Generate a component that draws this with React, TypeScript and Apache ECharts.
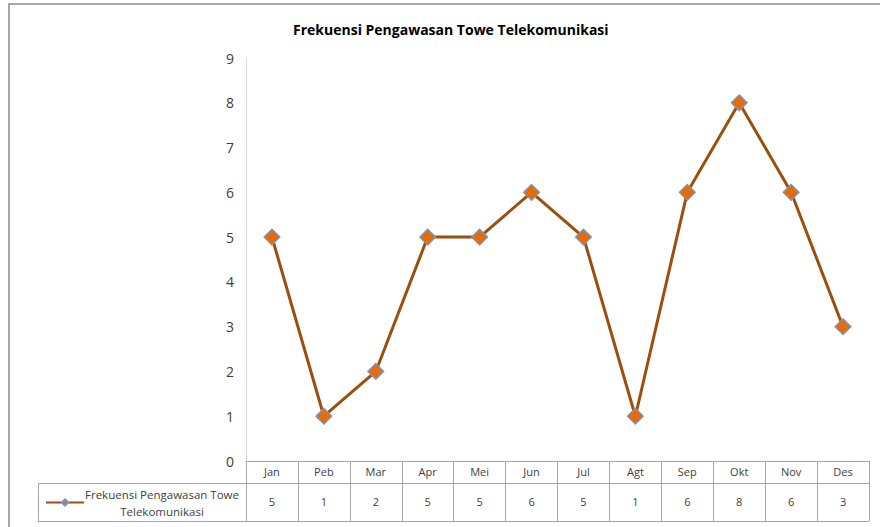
import React, { useEffect, useRef } from "react";
import * as echarts from "echarts";

const months = ["Jan", "Peb", "Mar", "Apr", "Mei", "Jun", "Jul", "Agt", "Sep", "Okt", "Nov", "Des"];
const values = [5, 1, 2, 5, 5, 6, 5, 1, 6, 8, 6, 3];
const yTicks = [0, 9, 1]; // min, max, interval
const seriesName = "Frekuensi Pengawasan Towe Telekomunikasi";
const titleText = "Frekuensi Pengawasan Towe Telekomunikasi";

const FONT = "'Open Sans', 'Noto Sans', sans-serif";
const TABLE = "#a6a6a6";
const TXT = "#404040";

export default function App() {
  const ref = useRef<HTMLDivElement>(null);
  useEffect(() => {
    if (!ref.current) return;
    const chart = echarts.init(ref.current, null, { renderer: "svg" });
    const gridLeft = 246;
    const gridTop = 58;
    const gridBottomY = 461;
    const option: any = {
      animation: false,
      backgroundColor: "#ffffff",
      textStyle: { fontFamily: FONT },
      title: {
        text: titleText,
        left: 288,
        top: 17,
        textStyle: { fontFamily: FONT, fontSize: 14, fontWeight: "bold", color: "#000" },
      },
      legend: {
        data: [seriesName],
        left: 40,
        top: 483,
        itemWidth: 38,
        itemHeight: 8,
        itemGap: 0,
        formatter: () => "{a|Frekuensi Pengawasan Towe}\n{a|Telekomunikasi}",
        textStyle: {
          fontFamily: FONT,
          color: TXT,
          padding: [0, 0, 0, -10],
          rich: { a: { fontSize: 11.5, width: 166, align: "center", lineHeight: 17, color: TXT, fontFamily: FONT } },
        },
      },
      grid: { left: gridLeft, right: 11, top: gridTop, height: gridBottomY - gridTop, containLabel: false },
      xAxis: [
        {
          type: "category",
          data: months,
          position: "bottom",
          boundaryGap: true,
          axisLine: { show: true, lineStyle: { color: TABLE, width: 1 } },
          axisTick: { show: true, length: 22, interval: 0, lineStyle: { color: TABLE } },
          axisLabel: { interval: 0, margin: 5, fontSize: 11, color: TXT, fontFamily: FONT },
          splitLine: { show: false },
        },
        {
          type: "category",
          data: values.map((v) => String(v)),
          position: "bottom",
          offset: 22,
          boundaryGap: true,
          axisLine: { show: true, lineStyle: { color: TABLE, width: 1 } },
          axisTick: { show: true, length: 38, interval: 0, lineStyle: { color: TABLE } },
          axisLabel: { interval: 0, margin: 13, fontSize: 11, color: TXT, fontFamily: FONT },
        },
        {
          type: "category",
          data: months,
          position: "bottom",
          offset: 60,
          boundaryGap: true,
          axisLine: { show: true, lineStyle: { color: TABLE, width: 1 } },
          axisTick: { show: false },
          axisLabel: { show: false },
        },
      ],
      yAxis: {
        type: "value",
        min: yTicks[0],
        max: yTicks[1],
        interval: yTicks[2],
        axisLine: { show: true, lineStyle: { color: "#d9d9d9", width: 1 } },
        axisTick: { show: false },
        splitLine: { show: false },
        axisLabel: { fontSize: 14, color: TXT, margin: 12, fontFamily: FONT },
      },
      series: [
        {
          name: seriesName,
          type: "line",
          xAxisIndex: 0,
          data: values,
          symbol: "diamond",
          symbolSize: 16,
          lineStyle: { color: "#9c4f0c", width: 3 },
          itemStyle: { color: "#e46c0a", borderColor: "#6f99d0", borderWidth: 1.2 },
        },
      ],
      graphic: [
        { type: "line", shape: { x1: 9, y1: 4, x2: 9, y2: 527 }, style: { stroke: "#a6a6a6", lineWidth: 2 } },
        { type: "line", shape: { x1: 8, y1: 4, x2: 880, y2: 4 }, style: { stroke: "#a6a6a6", lineWidth: 2 } },
        { type: "line", shape: { x1: 38, y1: 483.5, x2: 246, y2: 483.5 }, style: { stroke: TABLE, lineWidth: 1 } },
        { type: "line", shape: { x1: 38, y1: 521.5, x2: 246, y2: 521.5 }, style: { stroke: TABLE, lineWidth: 1 } },
        { type: "line", shape: { x1: 38.5, y1: 483, x2: 38.5, y2: 522 }, style: { stroke: TABLE, lineWidth: 1 } },
      ],
    };
    chart.setOption(option);
    return () => chart.dispose();
  }, []);
  return (
    <div
      ref={ref}
      style={{ position: "fixed", left: 0, top: 0, width: 880, height: 527, background: "#fff" }}
    />
  );
}
